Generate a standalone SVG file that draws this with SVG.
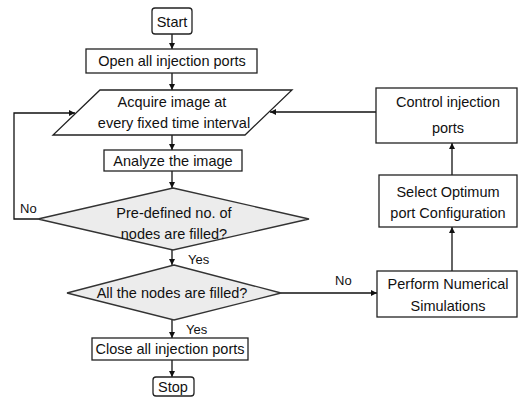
<svg xmlns="http://www.w3.org/2000/svg" width="518" height="398" viewBox="0 0 518 398">
  <style>
    .box { fill: #ffffff; stroke: #222222; stroke-width: 1.3; }
    .dec { fill: #ececec; stroke: #333333; stroke-width: 1.3; }
    .lbl { font-family: "Liberation Sans", Arial, sans-serif; font-size: 14.5px; fill: #111111; text-anchor: middle; }
    .tag { font-family: "Liberation Sans", Arial, sans-serif; font-size: 13px; fill: #111111; }
    .wire { fill: none; stroke: #111111; stroke-width: 1.3; }
  </style>
  <defs>
    <marker id="arrow" viewBox="0 0 10 10" refX="10" refY="5" markerWidth="6" markerHeight="6" markerUnits="userSpaceOnUse" orient="auto">
      <path d="M0,0 L10,5 L0,10 z" fill="#111111"/>
    </marker>
  </defs>

  <g id="connectors">
    <line class="wire" x1="172" y1="34" x2="172" y2="49" marker-end="url(#arrow)"/>
    <line class="wire" x1="172" y1="73" x2="172" y2="90" marker-end="url(#arrow)"/>
    <line class="wire" x1="172" y1="135" x2="172" y2="150" marker-end="url(#arrow)"/>
    <line class="wire" x1="172" y1="171" x2="172" y2="188" marker-end="url(#arrow)"/>
    <line class="wire" x1="172" y1="250" x2="172" y2="265" marker-end="url(#arrow)"/>
    <line class="wire" x1="172" y1="320" x2="172" y2="338" marker-end="url(#arrow)"/>
    <line class="wire" x1="172" y1="360" x2="172" y2="377" marker-end="url(#arrow)"/>
    <!-- "No" loop back to image acquisition -->
    <polyline class="wire" points="38,219 14,219 14,113 75,113" marker-end="url(#arrow)"/>
    <!-- "No" branch to simulations -->
    <line class="wire" x1="281" y1="293" x2="377" y2="293" marker-end="url(#arrow)"/>
    <line class="wire" x1="452" y1="271" x2="452" y2="227" marker-end="url(#arrow)"/>
    <line class="wire" x1="452" y1="175" x2="452" y2="143" marker-end="url(#arrow)"/>
    <line class="wire" x1="377" y1="112" x2="270" y2="112" marker-end="url(#arrow)"/>
    <text class="tag" x="20" y="213">No</text>
    <text class="tag" x="188" y="264">Yes</text>
    <text class="tag" x="186" y="334">Yes</text>
    <text class="tag" x="335" y="285">No</text>
  </g>

  <g id="start">
    <rect class="box" x="152" y="8" width="40" height="26" rx="3"/>
    <text class="lbl" x="172" y="27">Start</text>
  </g>

  <g id="open-ports">
    <rect class="box" x="86" y="49" width="171" height="24"/>
    <text class="lbl" x="172" y="66">Open all injection ports</text>
  </g>

  <g id="acquire">
    <polygon class="box" points="100,90 292,90 245,135 53,135"/>
    <text class="lbl" x="172" y="107">Acquire image at</text>
    <text class="lbl" x="174" y="128">every fixed time interval</text>
  </g>

  <g id="analyze">
    <rect class="box" x="104" y="150" width="138" height="21"/>
    <text class="lbl" x="173" y="166">Analyze the image</text>
  </g>

  <g id="predefined-check">
    <polygon class="dec" points="173,188 309,219 173,250 38,219"/>
    <text class="lbl" x="174" y="218">Pre-defined no. of</text>
    <text class="lbl" x="174" y="239">nodes are filled?</text>
  </g>

  <g id="all-check">
    <polygon class="dec" points="174,265 281,293 174,320 67,293"/>
    <text class="lbl" x="172" y="298">All the nodes are filled?</text>
  </g>

  <g id="close-ports">
    <rect class="box" x="92" y="338" width="156" height="22"/>
    <text class="lbl" x="170" y="354">Close all injection ports</text>
  </g>

  <g id="stop">
    <rect class="box" x="153" y="377" width="41" height="19" rx="3"/>
    <text class="lbl" x="173" y="392">Stop</text>
  </g>

  <g id="simulate">
    <rect class="box" x="377" y="271" width="140" height="46"/>
    <text class="lbl" x="448" y="289">Perform Numerical</text>
    <text class="lbl" x="448" y="311">Simulations</text>
  </g>

  <g id="select-config">
    <rect class="box" x="379" y="175" width="138" height="52"/>
    <text class="lbl" x="448" y="197">Select Optimum</text>
    <text class="lbl" x="448" y="218">port Configuration</text>
  </g>

  <g id="control-ports">
    <rect class="box" x="376" y="88" width="141" height="55"/>
    <text class="lbl" x="448" y="107">Control injection</text>
    <text class="lbl" x="448" y="133">ports</text>
  </g>
</svg>
